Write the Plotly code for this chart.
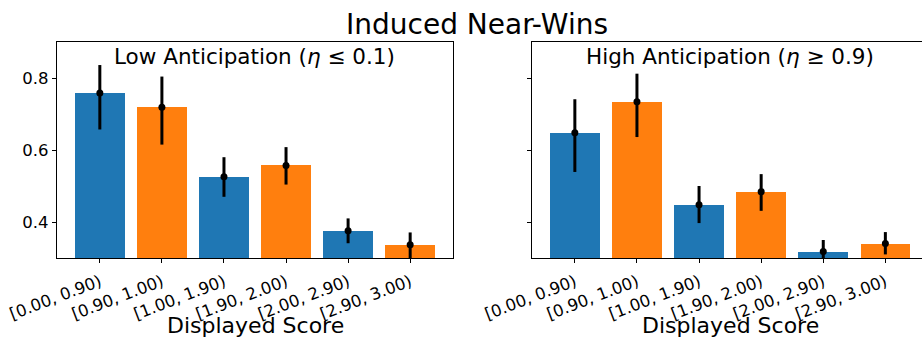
import plotly.graph_objects as go

categories = ["[0.00, 0.90)", "[0.90, 1.00)", "[1.00, 1.90)", "[1.90, 2.00)", "[2.00, 2.90)", "[2.90, 3.00)"]
low_vals = [0.758, 0.719, 0.526, 0.557, 0.376, 0.337]
low_err_hi = [0.836, 0.804, 0.580, 0.608, 0.410, 0.371]
low_err_lo = [0.657, 0.615, 0.470, 0.504, 0.341, 0.300]
high_vals = [0.648, 0.734, 0.448, 0.484, 0.318, 0.340]
high_err_hi = [0.741, 0.812, 0.500, 0.533, 0.350, 0.372]
high_err_lo = [0.539, 0.636, 0.397, 0.431, 0.290, 0.310]
bar_colors = ["#1f77b4", "#ff7f0e", "#1f77b4", "#ff7f0e", "#1f77b4", "#ff7f0e"]
y_ticks = [0.4, 0.6, 0.8]

W, H = 922, 337
FONT = "DejaVu Sans"
xpos = list(range(len(categories)))

fig = go.Figure()

def add_panel(vals, hi, lo, xa, ya):
    fig.add_trace(go.Bar(x=xpos, y=vals, base=0, width=0.8, marker=dict(color=bar_colors, line=dict(width=0)),
                         xaxis=xa, yaxis=ya, showlegend=False, hoverinfo="skip"))
    fig.add_trace(go.Scatter(x=xpos, y=vals, mode="markers", marker=dict(color="black", size=7),
                             error_y=dict(type="data", symmetric=False,
                                          array=[h - v for h, v in zip(hi, vals)],
                                          arrayminus=[v - l for v, l in zip(vals, lo)],
                                          color="black", thickness=3, width=0),
                             xaxis=xa, yaxis=ya, showlegend=False, cliponaxis=True, hoverinfo="skip"))

add_panel(low_vals, low_err_hi, low_err_lo, "x", "y")
add_panel(high_vals, high_err_hi, high_err_lo, "x2", "y2")

ydom = [1 - 258 / H, 1 - 42 / H]
common_x = dict(tickmode="array", tickvals=xpos, ticktext=categories, tickangle=-21,
                ticks="outside", ticklen=4, tickwidth=1, tickcolor="black", ticklabelstandoff=3,
                tickfont=dict(family=FONT, size=16.5, color="black"),
                showgrid=False, zeroline=False, showline=True, linecolor="black", linewidth=1.2,
                automargin=False)
common_y = dict(range=[0.3, 0.9], tickmode="array", tickvals=y_ticks, ticks="outside", ticklen=4,
                tickwidth=1, tickcolor="black", tickfont=dict(family=FONT, size=16.5, color="black"),
                showgrid=False, zeroline=False, showline=True, linecolor="black", linewidth=1.2,
                automargin=False, domain=ydom)

fig.update_layout(
    width=W, height=H, margin=dict(l=0, r=0, t=0, b=0),
    paper_bgcolor="white", plot_bgcolor="white", bargap=0,
    xaxis=dict(common_x, domain=[57 / W, 453 / W], range=[-0.69, 5.69], mirror=True, anchor="y"),
    yaxis=dict(common_y, mirror=True, anchor="x", tickformat=".1f"),
    xaxis2=dict(common_x, domain=[532 / W, 1.0], range=[-0.69, 5.59], mirror=True, anchor="y2"),
    yaxis2=dict(common_y, mirror=False, anchor="x2", showticklabels=False),
)

ann = [
    dict(text="Induced Near-Wins", x=477 / W, y=1 - 24 / H, size=28),
    dict(text="Low Anticipation (<i>η</i> ≤ 0.1)", x=254 / W, y=1 - 57 / H, size=21.5),
    dict(text="High Anticipation (<i>η</i> ≥ 0.9)", x=730 / W, y=1 - 57 / H, size=21.5),
    dict(text="Displayed Score", x=255 / W, y=1 - 325 / H, size=22),
    dict(text="Displayed Score", x=730 / W, y=1 - 325 / H, size=22),
]
for a in ann:
    fig.add_annotation(text=a["text"], x=a["x"], y=a["y"], xref="paper", yref="paper",
                       xanchor="center", yanchor="middle", showarrow=False,
                       font=dict(family=FONT, size=a["size"], color="black"))

fig.write_html("out.html", config={"displayModeBar": False},
               post_script="document.body.style.margin='0';document.body.style.overflow='hidden';")
